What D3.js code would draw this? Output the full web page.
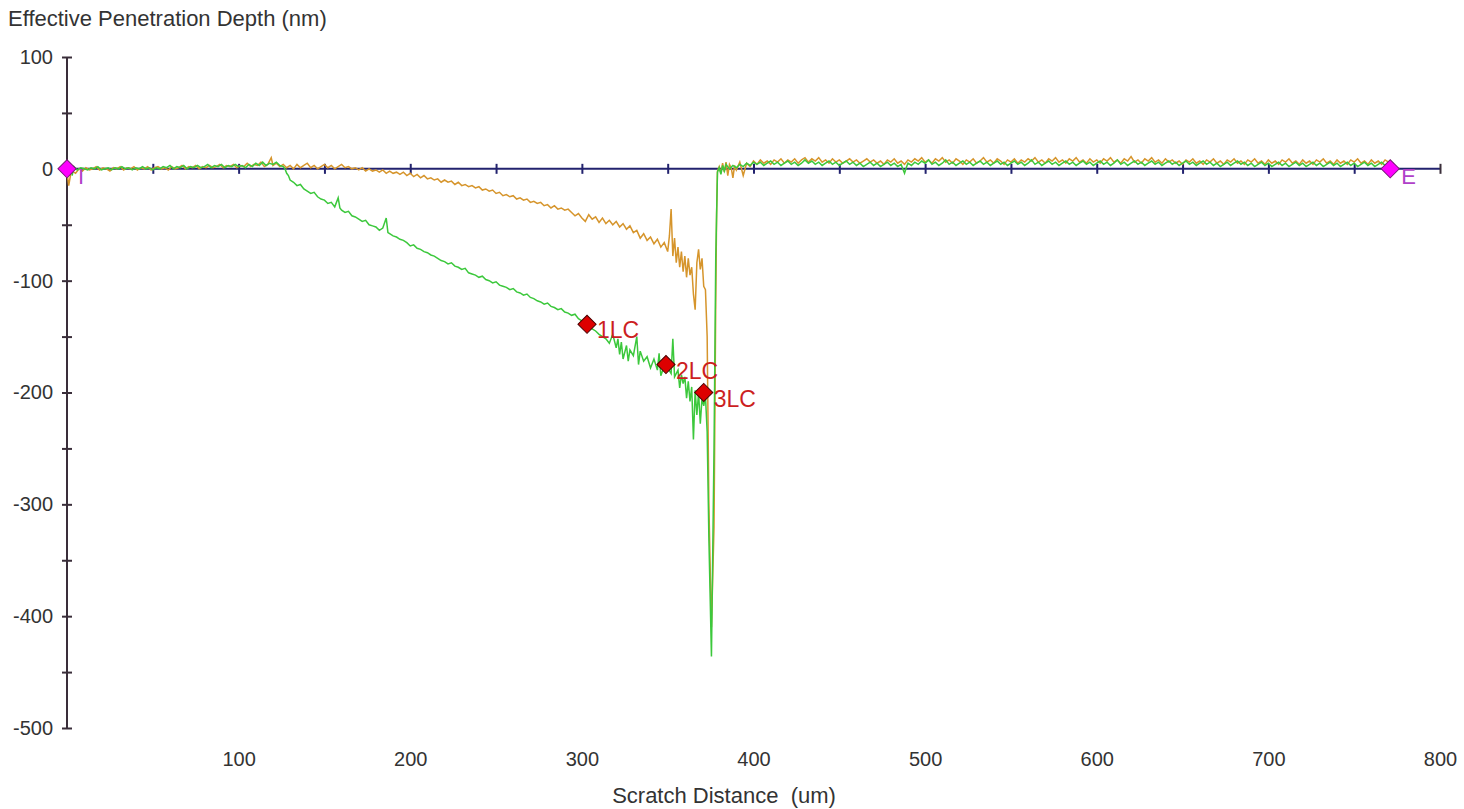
<!DOCTYPE html>
<html>
<head>
<meta charset="utf-8">
<script src="https://cdn.jsdelivr.net/npm/d3@7"></script>
<style>
  body { margin: 0; background: #fff; }
  text { font-family: "Liberation Sans", Arial, sans-serif; }
</style>
</head>
<body>
<script>
// Axis ticks
const yTicks = [100, 50, 0, -50, -100, -150, -200, -250, -300, -350, -400, -450, -500];
const xTicks = [50, 100, 150, 200, 250, 300, 350, 400, 450, 500, 550, 600, 650, 700, 750, 800];
const xLabels = [100, 200, 300, 400, 500, 600, 700, 800];

// Residual depth (orange), [distance um, depth nm]
const orangeTrace = [
  [0,-3],[1,-15],[2,-6],[3,-2],[5,-4],[7,0],[9,-2],[11,1],[13,-1],[15,0],[17,2],[19,-1],[21,1],[23,0],[25,-2],[27,1],[29,0],[31,2],[33,-1],[35,1],[37,0],[39,2],[41,-1],[43,1],[45,0],[47,2],[49,-1],[51,1],[53,2],[55,0],[57,1],[59,-1],[61,2],[63,0],[65,1],[67,3],[69,0],[71,2],[73,1],[75,3],[77,0],[79,2],[81,1],[83,3],[85,1],[87,2],[89,4],[91,1],[93,3],[95,2],[97,4],[99,1],[101,3],[103,2],[105,5],[107,2],[109,4],[111,3],[113,6],[115,2],[117,4],[119,10],[120,3],[122,5],[124,2],[126,4],[128,1],[130,3],[132,0],[134,4],[136,1],[138,3],[140,5],[142,1],[144,3],[146,0],[148,2],[150,4],[152,1],[154,3],[156,0],[158,2],[160,4],[162,1],[164,2],[166,0],[168,1],[170,-1],[172,1],[174,-2],[176,0],[178,-2],[180,-1],[182,-3],[184,-1],[186,-4],[188,-2],[190,-4],[192,-3],[194,-5],[196,-3],[198,-6],[200,-4],[202,-7],[204,-5],[206,-8],[208,-6],[210,-9],[212,-8],[214,-10],[216,-9],[218,-12],[220,-10],[222,-12],[224,-11],[226,-14],[228,-12],[230,-15],[232,-14],[234,-16],[236,-15],[238,-17],[240,-16],[242,-19],[244,-18],[246,-20],[248,-19],[250,-22],[252,-21],[254,-24],[256,-23],[258,-25],[260,-24],[262,-27],[264,-26],[266,-28],[268,-27],[270,-30],[272,-29],[274,-31],[276,-30],[278,-33],[280,-32],[282,-35],[284,-33],[286,-36],[288,-35],[290,-37],[292,-36],[294,-39],[296,-42],[298,-40],[300,-44],[302,-47],[304,-41],[306,-45],[308,-43],[310,-48],[312,-44],[314,-49],[316,-46],[318,-50],[320,-47],[322,-52],[324,-49],[326,-54],[328,-51],[330,-57],[332,-55],[334,-62],[336,-58],[338,-64],[340,-61],[342,-67],[344,-63],[346,-70],[348,-66],[350,-74],[351,-60],[352,-36],[353,-78],[354,-62],[355,-84],[356,-70],[357,-88],[358,-74],[359,-92],[360,-78],[361,-97],[362,-80],[363,-95],[364,-88],[365,-112],[366,-126],[367,-84],[368,-72],[369,-90],[370,-80],[371,-105],[372,-108],[373,-150],[374,-300],[375.5,-410],[377,-320],[378,-120],[378.5,-40],[379,-2],
  [380,2],[381,-4],[382,5],[383,-3],[384,6],[385,-6],[386,4],[387,1],[388,-8],[389,3],[390,-1],[392,6],[394,-6],[396,5],[398,2],[400,7],[402,4],[404,8],[406,5],[408,7],[410,4],[412,8],[414,6],[416,9],[418,5],[420,8],[422,6],[424,9],[426,5],[428,8],[430,10],[432,6],[434,9],[436,7],[438,10],[440,6],[442,8],[444,5],[446,9],[448,6],[450,8],[452,5],[454,7],[456,9],[458,6],[460,8],[462,5],[464,7],[466,9],[468,6],[470,8],[472,5],[474,7],[476,4],[478,8],[480,6],[482,9],[484,5],[486,7],[488,4],[490,8],[492,6],[494,9],[496,7],[498,10],[500,6],[502,8],[504,5],[506,9],[508,7],[510,10],[512,6],[514,8],[516,5],[518,9],[520,7],[522,4],[524,8],[526,6],[528,9],[530,5],[532,7],[534,10],[536,6],[538,8],[540,5],[542,9],[544,7],[546,4],[548,8],[550,6],[552,9],[554,5],[556,8],[558,6],[560,9],[562,7],[564,10],[566,6],[568,8],[570,5],[572,9],[574,7],[576,10],[578,6],[580,8],[582,5],[584,9],[586,7],[588,10],[590,6],[592,8],[594,5],[596,9],[598,6],[600,8],[602,5],[604,9],[606,7],[608,10],[610,6],[612,8],[614,5],[616,9],[618,7],[620,11],[622,6],[624,8],[626,5],[628,9],[630,7],[632,10],[634,6],[636,8],[638,5],[640,9],[642,6],[644,8],[646,5],[648,7],[650,4],[652,8],[654,6],[656,9],[658,5],[660,7],[662,4],[664,8],[666,6],[668,9],[670,5],[672,7],[674,4],[676,8],[678,6],[680,9],[682,5],[684,7],[686,4],[688,8],[690,6],[692,9],[694,5],[696,7],[698,4],[700,8],[702,5],[704,7],[706,4],[708,8],[710,6],[712,9],[714,5],[716,7],[718,4],[720,8],[722,5],[724,7],[726,4],[728,8],[730,6],[732,9],[734,5],[736,7],[738,4],[740,8],[742,5],[744,7],[746,4],[748,8],[750,6],[752,9],[754,5],[756,7],[758,4],[760,8],[762,5],[764,7],[766,4],[768,8],[770,6],[772,4],[773,5]
];

// Penetration depth during scratch (green)
const greenTrace = [
  [3,-6],[4,2],[6,-1],[8,1],[10,0],[12,-1],[14,1],[16,0],[18,2],[20,-1],[22,0],[24,1],[26,-1],[28,1],[30,0],[32,2],[34,0],[36,1],[38,-1],[40,1],[42,0],[44,2],[46,0],[48,1],[50,-1],[52,1],[54,0],[56,2],[58,1],[60,3],[62,0],[64,2],[66,1],[68,3],[70,0],[72,2],[74,1],[76,3],[78,1],[80,2],[82,4],[84,1],[86,3],[88,2],[90,4],[92,1],[94,3],[96,2],[98,4],[100,2],[102,3],[104,1],[106,4],[108,2],[110,5],[112,3],[114,6],[116,3],[118,5],[120,4],[122,6],[124,3],[126,2],
  [127,0],[128,-4],[129,-6],[130,-10],[132,-12],[134,-15],[136,-14],[138,-18],[140,-20],[142,-22],[144,-21],[146,-25],[148,-27],[150,-28],[152,-31],[154,-30],[156,-34],[158,-26],[159,-35],[160,-37],[162,-39],[164,-38],[166,-42],[168,-43],[170,-45],[172,-47],[174,-46],[176,-50],[178,-51],[180,-52],[182,-55],[184,-53],[186,-44],[187,-57],[188,-58],[190,-60],[192,-61],[194,-63],[196,-64],[198,-66],[200,-69],[202,-68],[204,-71],[206,-72],[208,-74],[210,-75],[212,-77],[214,-78],[216,-80],[218,-82],[220,-83],[222,-85],[224,-84],[226,-87],[228,-88],[230,-90],[232,-89],[234,-93],[236,-94],[238,-95],[240,-97],[242,-96],[244,-99],[246,-100],[248,-102],[250,-101],[252,-104],[254,-105],[256,-106],[258,-108],[260,-107],[262,-110],[264,-111],[266,-113],[268,-112],[270,-115],[272,-116],[274,-118],[276,-119],[278,-121],[280,-120],[282,-123],[284,-124],[286,-126],[288,-125],[290,-128],[292,-129],[294,-131],[296,-130],[298,-134],[300,-136],[302,-138],[304,-141],[306,-143],[308,-145],[310,-148],[312,-150],[314,-152],[316,-156],[318,-148],[320,-160],[321,-152],[322,-166],[323,-155],[324,-170],[326,-158],[327,-172],[328,-162],[330,-167],[332,-150],[333,-175],[334,-163],[336,-172],[338,-168],[340,-178],[342,-170],[344,-180],[345,-165],[346,-185],[348,-176],[350,-178],[352,-183],[353,-152],[354,-186],[356,-180],[357,-196],[358,-184],[359,-192],[360,-186],[361,-205],[362,-190],[363,-208],[364,-195],[365,-242],[366,-198],[367,-220],[368,-200],[369,-228],[370,-205],[371,-212],[372,-203],[373,-235],[374,-330],[375.5,-436],[377,-250],[378,-80],[379,-3],
  [380,1],[381,-5],[382,3],[383,-2],[384,4],[386,0],[388,3],[390,1],[392,4],[394,2],[396,5],[398,3],[400,6],[402,4],[404,6],[406,3],[408,5],[410,7],[412,4],[414,6],[416,3],[418,5],[420,7],[422,4],[424,6],[426,3],[428,5],[430,8],[432,5],[434,7],[436,4],[438,6],[440,3],[442,5],[444,7],[446,4],[448,6],[450,3],[452,5],[454,7],[456,4],[458,6],[460,3],[462,5],[464,2],[466,4],[468,6],[470,3],[472,5],[474,2],[476,4],[478,6],[480,3],[482,5],[484,2],[486,4],[488,-4],[489,1],[490,5],[492,3],[494,6],[496,4],[498,7],[500,5],[502,8],[504,4],[506,6],[508,3],[510,5],[512,8],[514,4],[516,6],[518,3],[520,5],[522,7],[524,4],[526,6],[528,3],[530,5],[532,7],[534,4],[536,6],[538,3],[540,5],[542,7],[544,4],[546,6],[548,3],[550,5],[552,7],[554,4],[556,6],[558,3],[560,5],[562,8],[564,4],[566,6],[568,3],[570,5],[572,7],[574,4],[576,6],[578,3],[580,5],[582,7],[584,4],[586,6],[588,3],[590,5],[592,7],[594,4],[596,6],[598,3],[600,5],[602,7],[604,4],[606,6],[608,3],[610,5],[612,8],[614,4],[616,6],[618,3],[620,5],[622,7],[624,4],[626,6],[628,3],[630,5],[632,7],[634,4],[636,6],[638,3],[640,5],[642,7],[644,4],[646,6],[648,3],[650,5],[652,7],[654,4],[656,6],[658,3],[660,5],[662,7],[664,4],[666,6],[668,3],[670,5],[672,2],[674,4],[676,6],[678,3],[680,5],[682,7],[684,4],[686,6],[688,3],[690,5],[692,2],[694,4],[696,6],[698,3],[700,5],[702,2],[704,4],[706,6],[708,3],[710,5],[712,2],[714,4],[716,6],[718,3],[720,5],[722,2],[724,4],[726,6],[728,3],[730,5],[732,2],[734,4],[736,6],[738,3],[740,5],[742,2],[744,4],[746,6],[748,3],[750,5],[752,2],[754,4],[756,6],[758,3],[760,5],[762,2],[764,4],[766,6],[768,3],[770,5],[772,3],[773,4]
];

// Critical load events
const lcLabels = ['1LC', '2LC', '3LC'];
const lcX = [303, 349, 371];
const lcY = [-139, -175, -200];

// Start / end of scratch
const seLabels = ['I', 'E'];
const seX = [0, 771];
const seY = [0, 0];

const svg = d3.select('body')
    .append('svg')
    .attr('width', 1464)
    .attr('height', 809);

const x = d3.scaleLinear().domain([0, 800]).range([67, 1440]);
const y = d3.scaleLinear().domain([-500, 100]).range([728, 57]);

// Titles
svg.append('text')
    .attr('x', 8)
    .attr('y', 26)
    .attr('font-size', 22)
    .attr('fill', '#333')
    .text('Effective Penetration Depth (nm)');

svg.append('text')
    .attr('x', 724)
    .attr('y', 803)
    .attr('text-anchor', 'middle')
    .attr('font-size', 22)
    .attr('fill', '#333')
    .style('white-space', 'pre')
    .text('Scratch Distance  (um)');

// Y axis, ticks cross the line
const yAxis = svg.append('g')
    .attr('transform', `translate(${x(0)},0)`)
    .call(d3.axisLeft(y)
        .tickValues(yTicks)
        .tickSize(5)
        .tickPadding(9)
        .tickFormat(d => d % 100 === 0 ? d : ''));
yAxis.selectAll('.tick line').attr('x2', -5).attr('x1', 5);
yAxis.select('.domain').attr('d', `M0,${y(100)}V${y(-500)}`);
yAxis.selectAll('path, line').attr('stroke', '#3a2e3a').attr('stroke-width', 2);
yAxis.selectAll('text').attr('font-size', 20).attr('fill', '#333')
    .attr('font-family', '"Liberation Sans", Arial, sans-serif');

// X axis at zero depth
const xAxis = svg.append('g')
    .attr('transform', `translate(0,${y(0)})`)
    .call(d3.axisBottom(x).tickValues(xTicks).tickSize(5).tickFormat(''));
xAxis.selectAll('.tick line').attr('y1', -5).attr('y2', 5);
xAxis.select('.domain').attr('d', `M${x(0)},0H${x(800)}`);
xAxis.selectAll('path, line').attr('stroke', '#22226e').attr('stroke-width', 2);
xAxis.selectAll('.tick').filter(d => d === 800).select('line').attr('stroke', '#3a2e3a');

// X labels at bottom
const xLab = svg.append('g')
    .attr('transform', 'translate(0,752)')
    .call(d3.axisBottom(x).tickValues(xLabels).tickSize(0).tickPadding(0));
xLab.select('.domain').remove();
xLab.selectAll('text').attr('font-size', 20).attr('fill', '#333')
    .attr('font-family', '"Liberation Sans", Arial, sans-serif');

// Traces
const line = d3.line().x(d => x(d[0])).y(d => y(d[1]));

svg.append('path')
    .datum(orangeTrace)
    .attr('d', line)
    .attr('fill', 'none')
    .attr('stroke', '#d6952c')
    .attr('stroke-width', 1.5);

svg.append('path')
    .datum(greenTrace)
    .attr('d', line)
    .attr('fill', 'none')
    .attr('stroke', '#3cc83c')
    .attr('stroke-width', 1.5);

// Diamond markers
const diamond = d3.symbol(d3.symbolSquare, 165);

svg.selectAll('.lc')
    .data(lcLabels)
    .enter()
    .append('path')
    .attr('class', 'lc')
    .attr('d', diamond)
    .attr('transform', (d, i) => `translate(${x(lcX[i])},${y(lcY[i])}) rotate(45)`)
    .attr('fill', '#dd0000')
    .attr('stroke', '#4a0000')
    .attr('stroke-width', 1);

svg.selectAll('.lc-label')
    .data(lcLabels)
    .enter()
    .append('text')
    .attr('x', (d, i) => x(lcX[i]) + 10)
    .attr('y', (d, i) => y(lcY[i]) + 14)
    .attr('font-size', 23)
    .attr('fill', '#cc1f1f')
    .text(d => d);

svg.selectAll('.se')
    .data(seLabels)
    .enter()
    .append('path')
    .attr('class', 'se')
    .attr('d', diamond)
    .attr('transform', (d, i) => `translate(${x(seX[i])},${y(seY[i])}) rotate(45)`)
    .attr('fill', '#ff00ff')
    .attr('stroke', '#7a1a7a')
    .attr('stroke-width', 1);

svg.selectAll('.se-label')
    .data(seLabels)
    .enter()
    .append('text')
    .attr('x', (d, i) => x(seX[i]) + 11)
    .attr('y', (d, i) => y(seY[i]) + 15)
    .attr('font-size', 22)
    .attr('fill', '#b040c8')
    .text(d => d);
</script>
</body>
</html>
